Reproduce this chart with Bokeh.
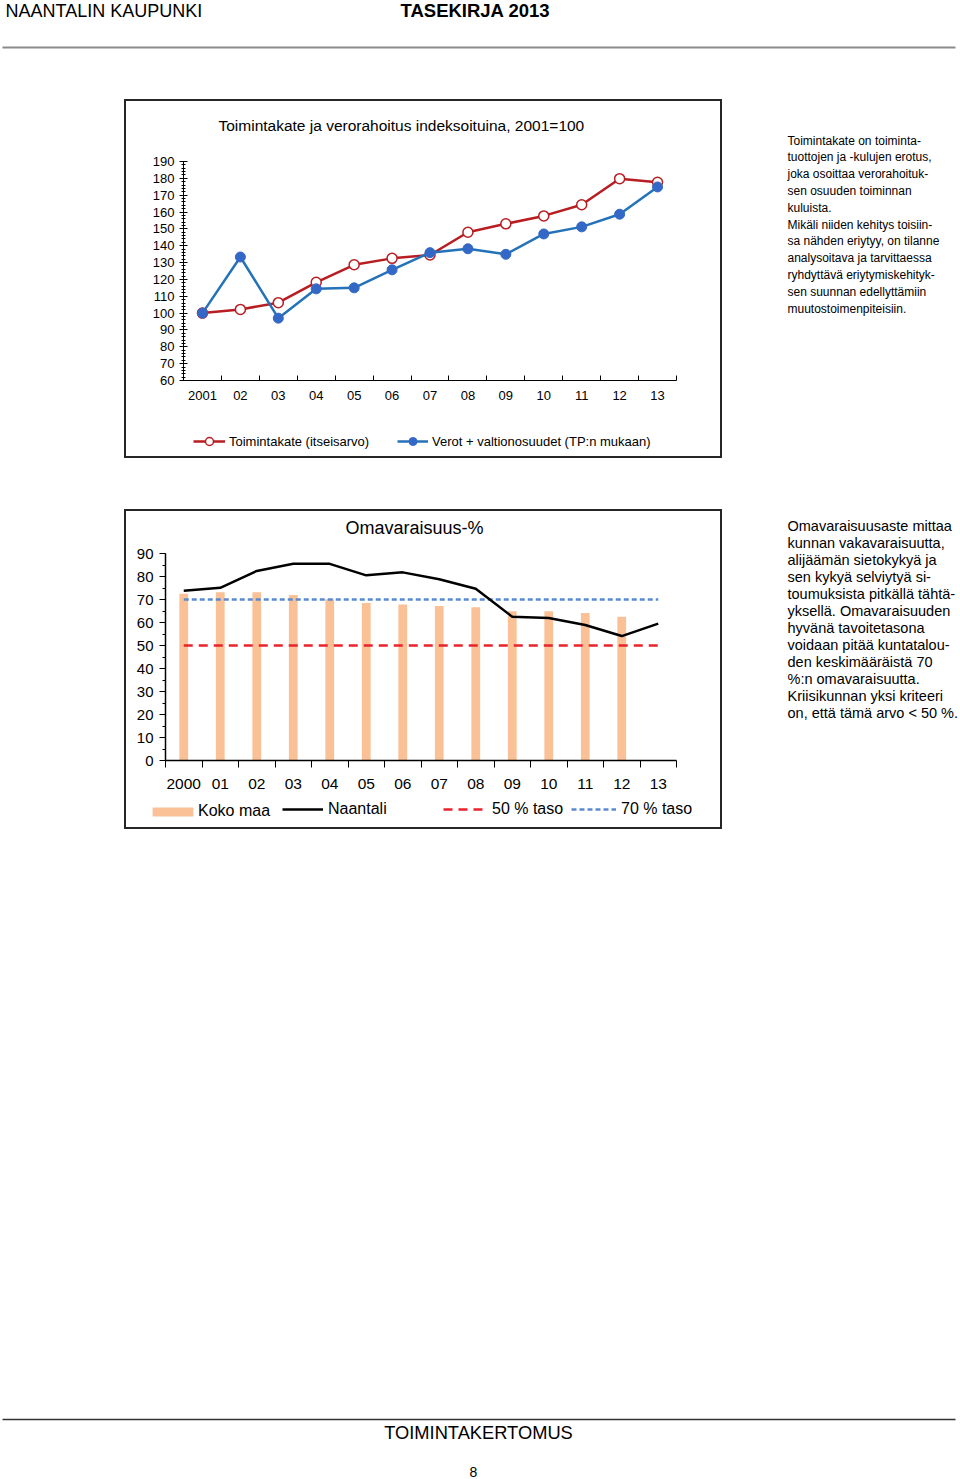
from bokeh.plotting import figure
from bokeh.models import Range1d, LinearAxis, FixedTicker, Label, Legend, LegendItem, Spacer
from bokeh.layouts import column, row
from bokeh.embed import file_html
from bokeh.resources import INLINE
from bokeh.core.properties import value

FONT = "Liberation Sans"
NAN = float("nan")

# ---------------- data ----------------
years1 = ["2001", "02", "03", "04", "05", "06", "07", "08", "09", "10", "11", "12", "13"]
toimintakate = [100.0, 102.2, 106.2, 118.3, 128.7, 132.5, 134.5, 148.0, 153.0, 157.7, 164.3, 179.8, 177.7]
verot = [100.0, 133.3, 97.0, 114.4, 115.0, 125.7, 135.9, 138.2, 134.9, 147.0, 151.2, 158.7, 174.9]
y1_ticks = list(range(60, 191, 10))

years2 = ["2000", "01", "02", "03", "04", "05", "06", "07", "08", "09", "10", "11", "12", "13"]
koko_maa = [72.5, 73.2, 73.2, 72.0, 70.1, 68.5, 67.8, 67.2, 66.6, 64.9, 64.9, 64.1, 62.5]
naantali = [73.8, 75.1, 82.4, 85.5, 85.5, 80.5, 81.8, 78.8, 74.7, 62.5, 62.0, 58.9, 54.1, 59.5]
taso50 = [50] * 14
taso70 = [70] * 14
y2_ticks = list(range(0, 91, 10))

text1 = ["Toimintakate on toiminta-", "tuottojen ja -kulujen erotus,", "joka osoittaa verorahoituk-",
         "sen osuuden toiminnan", "kuluista.", "Mikäli niiden kehitys toisiin-",
         "sa nähden eriytyy, on tilanne", "analysoitava ja tarvittaessa",
         "ryhdyttävä eriytymiskehityk-", "sen suunnan edellyttämiin", "muutostoimenpiteisiin."]
text2 = ["Omavaraisuusaste mittaa", "kunnan vakavaraisuutta,", "alijäämän sietokykyä ja",
         "sen kykyä selviytyä si-", "toumuksista pitkällä tähtä-", "yksellä. Omavaraisuuden",
         "hyvänä tavoitetasona", "voidaan pitää kuntatalou-", "den keskimääräistä 70",
         "%:n omavaraisuutta.", "Kriisikunnan yksi kriteeri", "on, että tämä arvo < 50 %."]

RED = "#B81D22"
BLUE = "#2472B8"
BLUE_M = "#3468C6"
BAR = "#F9C195"
RED50 = "#E8232A"
BLUE70 = "#5B8AD0"
BORDER = 2
BOX_STYLE = {"border": f"{BORDER}px solid #262626", "box-sizing": "content-box"}


def page_fig(w, h, top=0, bottom=None, left=0, right=None):
    p = figure(width=w, height=h, x_range=Range1d(left, w if right is None else right),
               y_range=Range1d(h if bottom is None else bottom, top),
               output_backend="svg", toolbar_location=None, min_border=0,
               x_axis_location=None, y_axis_location=None)
    p.grid.visible = False
    p.outline_line_color = None
    p.background_fill_color = None
    p.border_fill_color = None
    return p


def legend(p, label, renderers, vx, vy, gw, gh, standoff, size):
    lg = Legend(items=[LegendItem(label=label, renderers=renderers)], location=(vx, vy),
                orientation="horizontal", padding=0, margin=0, spacing=0,
                border_line_color=None, background_fill_alpha=0, glyph_width=gw, glyph_height=gh,
                label_height=gh, label_standoff=standoff, label_text_font=FONT,
                label_text_font_size=size, label_text_color="#000")
    p.add_layout(lg)
    return lg


# ---------------- header ----------------
hdr = page_fig(960, 99)
hdr.text(x=[5], y=[10], text=["NAANTALIN KAUPUNKI"], text_font=value(FONT),
         text_font_size="18px", text_baseline="middle", text_color="#000")
hdr.text(x=[400], y=[10], text=["TASEKIRJA 2013"], text_font=value(FONT),
         text_font_size="18.5px", text_font_style="bold", text_baseline="middle", text_color="#000")
hdr.segment(x0=[2], y0=[47], x1=[955], y1=[47], line_color="#8a8a8a", line_width=2)

# ---------------- chart 1 ----------------
# box 1 on the page: 124..722 x 99..458 ; plot area x 183..676, y(60)=380, y(190)=161
IW1, IH1 = 598 - 2 * BORDER, 359 - 2 * BORDER
cx1, cy1 = 124 + BORDER, 99 + BORDER
LEG1_H = 36
P1_H = IH1 - LEG1_H
ppu1 = (380 - 161) / (190 - 60)
idx1 = list(range(len(years1)))
p1 = figure(width=IW1, height=P1_H, x_range=Range1d(-0.5, len(years1) - 0.5),
            y_range=Range1d(60, 190 + (161 - cy1) / ppu1), output_backend="svg",
            toolbar_location=None, x_axis_location=None, y_axis_location=None,
            min_border_left=183 - cx1, min_border_right=cx1 + IW1 - 676, min_border_top=0,
            min_border_bottom=cy1 + P1_H - 380)
p1.grid.visible = False
p1.outline_line_color = None

ya1 = LinearAxis(ticker=FixedTicker(ticks=y1_ticks, minor_ticks=list(range(60, 191, 2))), bounds=(60, 190))
ya1.major_tick_in = 4
ya1.major_tick_out = 4
ya1.minor_tick_in = 2
ya1.minor_tick_out = 2
ya1.major_label_standoff = 5
ya1.major_label_text_font = FONT
ya1.major_label_text_font_size = "13px"
ya1.major_label_text_color = "#000"
ya1.axis_line_color = "#000"
p1.add_layout(ya1, "left")

xa1 = LinearAxis(ticker=FixedTicker(ticks=idx1, minor_ticks=[i - 0.5 for i in range(len(years1) + 1)]))
xa1.major_label_overrides = {i: years1[i] for i in idx1}
xa1.major_tick_line_color = None
xa1.major_tick_in = 0
xa1.major_tick_out = 0
xa1.minor_tick_in = 5
xa1.minor_tick_out = 0
xa1.major_label_standoff = 10
xa1.major_label_text_font = FONT
xa1.major_label_text_font_size = "13px"
xa1.major_label_text_color = "#000"
xa1.axis_line_color = "#000"
p1.add_layout(xa1, "below")

p1.line(x=idx1, y=toimintakate, line_color=RED, line_width=2.5)
p1.scatter(x=idx1, y=toimintakate, marker="circle", size=10, fill_color="white",
           line_color=RED, line_width=1.5)
p1.line(x=idx1, y=verot, line_color=BLUE, line_width=2.5)
p1.scatter(x=idx1, y=verot, marker="circle", size=10, fill_color=BLUE_M,
           line_color=BLUE_M, line_width=1)

p1.add_layout(Label(x=-0.5 + (403 - 183) * len(years1) / (676 - 183), y=190 + (161 - 125) / ppu1,
                    text="Toimintakate ja verorahoitus  indeksoituina, 2001=100",
                    text_align="center", text_baseline="middle", text_font=FONT,
                    text_font_size="15.5px", text_color="#000"))

# legend strip of box 1 (page px 126..720 x 420..456); legend glyphs only (no data)
lg1 = page_fig(IW1, LEG1_H, top=cy1 + P1_H, bottom=cy1 + IH1, left=cx1, right=cx1 + IW1)
k1l = lg1.line(x=[NAN], y=[NAN], line_color=RED, line_width=2.5)
k1m = lg1.scatter(x=[NAN], y=[NAN], marker="circle", size=7, fill_color="white", line_color=RED, line_width=1.5)
k2l = lg1.line(x=[NAN], y=[NAN], line_color=BLUE, line_width=2.5)
k2m = lg1.scatter(x=[NAN], y=[NAN], marker="circle", size=7, fill_color=BLUE_M, line_color=BLUE_M, line_width=1)
legend(lg1, "Toimintakate (itseisarvo)", [k1l, k1m], 193 - cx1, 5, 32, 20, 4, "13px")
legend(lg1, "Verot + valtionosuudet (TP:n mukaan)", [k2l, k2m], 397 - cx1, 5, 31, 20, 4, "13px")

t1 = page_fig(238, 359)
t1.text(x=[65] * len(text1), y=[41 + 16.8 * i for i in range(len(text1))], text=text1,
        text_font=value(FONT), text_font_size="12px", text_baseline="middle", text_color="#000")

# ---------------- chart 2 ----------------
# box 2 on the page: 124..722 x 509..829 ; plot area x 165..676, y(0)=760, y(90)=553
IW2, IH2 = 598 - 2 * BORDER, 320 - 2 * BORDER
cx2, cy2 = 124 + BORDER, 509 + BORDER
LEG2_H = 32
P2_H = IH2 - LEG2_H
ppu2 = (760 - 553) / 90
idx2 = list(range(len(years2)))
p2 = figure(width=IW2, height=P2_H, x_range=Range1d(-0.5, len(years2) - 0.5),
            y_range=Range1d(0, 90 + (553 - cy2) / ppu2), output_backend="svg",
            toolbar_location=None, x_axis_location=None, y_axis_location=None,
            min_border_left=165 - cx2, min_border_right=cx2 + IW2 - 676, min_border_top=0,
            min_border_bottom=cy2 + P2_H - 760)
p2.grid.visible = False
p2.outline_line_color = None

ya2 = LinearAxis(ticker=FixedTicker(ticks=y2_ticks, minor_ticks=list(range(0, 91, 5))), bounds=(0, 90))
ya2.major_tick_in = 0
ya2.major_tick_out = 6
ya2.minor_tick_in = 0
ya2.minor_tick_out = 3
ya2.major_label_standoff = 6
ya2.major_label_text_font = FONT
ya2.major_label_text_font_size = "15px"
ya2.major_label_text_color = "#000"
ya2.axis_line_color = "#000"
ya2.axis_line_width = 1.5
p2.add_layout(ya2, "left")

xa2 = LinearAxis(ticker=FixedTicker(ticks=idx2, minor_ticks=[i - 0.5 for i in range(len(years2) + 1)]))
xa2.major_label_overrides = {i: years2[i] for i in idx2}
xa2.major_tick_line_color = None
xa2.major_tick_in = 0
xa2.major_tick_out = 0
xa2.minor_tick_in = 0
xa2.minor_tick_out = 7
xa2.major_label_standoff = 11
xa2.major_label_text_font = FONT
xa2.major_label_text_font_size = "15.5px"
xa2.major_label_text_color = "#000"
xa2.axis_line_color = "#000"
xa2.axis_line_width = 1.5
p2.add_layout(xa2, "below")

p2.vbar(x=idx2[:len(koko_maa)], top=koko_maa, width=0.24, fill_color=BAR, line_color=None)
p2.line(x=idx2, y=taso50, line_color=RED50, line_width=2.5, line_dash="9 6")
p2.line(x=idx2, y=taso70, line_color=BLUE70, line_width=2.5, line_dash="5 3")
p2.line(x=idx2, y=naantali, line_color="#000", line_width=2.5)

p2.add_layout(Label(x=-0.5 + (414 - 165) * len(years2) / (676 - 165), y=90 + (553 - 527) / ppu2,
                    text="Omavaraisuus-%", text_align="center", text_baseline="middle",
                    text_font=FONT, text_font_size="18px", text_color="#000"))

# legend strip of box 2 (page px 126..720 x 795..827); legend glyphs only (no data)
lg2 = page_fig(IW2, LEG2_H, top=cy2 + P2_H, bottom=cy2 + IH2, left=cx2, right=cx2 + IW2)
kb = lg2.vbar(x=[NAN], top=[NAN], width=0.24, fill_color=BAR, line_color=None)
kn = lg2.line(x=[NAN], y=[NAN], line_color="#000", line_width=2.5)
k50 = lg2.line(x=[NAN], y=[NAN], line_color=RED50, line_width=2.5, line_dash="9 6")
k70 = lg2.line(x=[NAN], y=[NAN], line_color=BLUE70, line_width=2.5, line_dash="5 3")
legend(lg2, "Koko maa", [kb], 147 - cx2, 7, 51, 11, 0, "16px")
legend(lg2, "Naantali", [kn], 282 - cx2, 9, 41, 18, 5, "16px")
legend(lg2, "50 % taso", [k50], 443 - cx2, 9, 44, 18, 5, "16px")
legend(lg2, "70 % taso", [k70], 571 - cx2, 9, 45, 18, 5, "16px")

t2 = page_fig(238, 320)
t2.text(x=[65] * len(text2), y=[16 + 17 * i for i in range(len(text2))], text=text2,
        text_font=value(FONT), text_font_size="14.5px", text_baseline="middle", text_color="#000")

# ---------------- footer ----------------
ftr = page_fig(960, 650)
ftr.segment(x0=[2], y0=[590], x1=[955], y1=[590], line_color="#333", line_width=1.5)
ftr.text(x=[478], y=[603], text=["TOIMINTAKERTOMUS"], text_font=value(FONT),
         text_font_size="18.3px", text_align="center", text_baseline="middle", text_color="#000")
ftr.text(x=[473], y=[642], text=["8"], text_font=value(FONT),
         text_font_size="14px", text_align="center", text_baseline="middle", text_color="#000")

box1 = column(column(p1), column(lg1), styles=BOX_STYLE)
box2 = column(column(p2), column(lg2), styles=BOX_STYLE)

page = column(
    hdr,
    row(Spacer(width=124, height=359), box1, t1),
    Spacer(width=960, height=51),
    row(Spacer(width=124, height=320), box2, t2),
    ftr,
)

open("out.html", "w").write(file_html(page, INLINE))
